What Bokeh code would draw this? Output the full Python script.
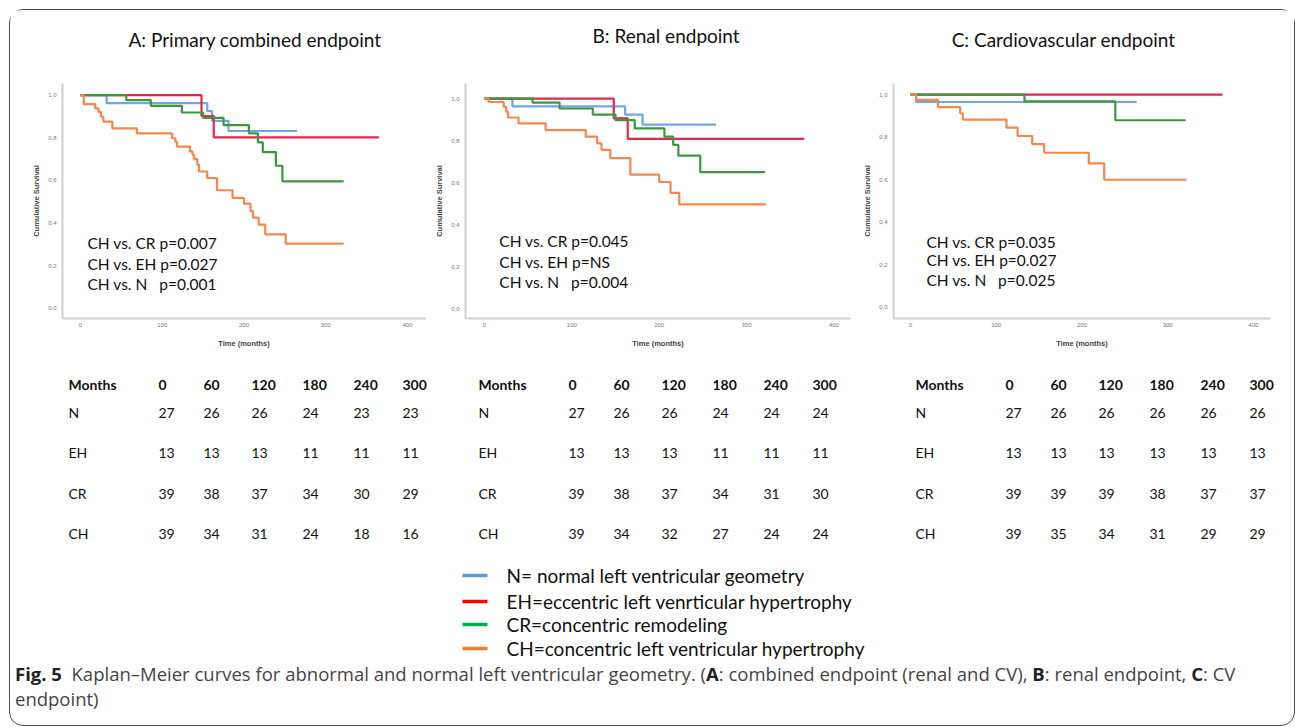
from bokeh.plotting import figure
from bokeh.layouts import row, column
from bokeh.models import Range1d, FixedTicker, CustomJSTickFormatter, Div
from bokeh.core.properties import value
from bokeh.embed import file_html
from bokeh.resources import INLINE

# ---------------- data ----------------
groups = ["N", "EH", "CR", "CH"]
km_colors = ["#70a7e3", "#e3264e", "#3b973b", "#f5874e"]
legend_colors = ["#5b9bd5", "#ff0000", "#00b050", "#ed7d31"]
legend_labels = ["N= normal left ventricular geometry",
                 "EH=eccentric left venrticular hypertrophy",
                 "CR=concentric remodeling",
                 "CH=concentric left ventricular hypertrophy"]
panel_titles = ["A: Primary combined endpoint", "B: Renal endpoint", "C: Cardiovascular endpoint"]

# Panel A  (event times in months, survival after each event, last follow-up)
A_N_t = [32, 155, 161, 181];            A_N_s = [0.963, 0.925, 0.88, 0.832];   A_N_end = 265
A_EH_t = [148, 163];                    A_EH_s = [0.902, 0.802];               A_EH_end = 365
A_CR_t = [56, 86, 124, 150, 175, 206, 217, 223, 239, 247]
A_CR_s = [0.977, 0.95, 0.919, 0.894, 0.86, 0.821, 0.779, 0.733, 0.669, 0.596]; A_CR_end = 322
A_CH_t = [4, 18, 22, 25, 28, 39, 69, 112, 116, 118, 134, 137, 139, 143, 145, 155, 167, 186, 200, 208, 211, 218, 226, 251]
A_CH_s = [0.958, 0.938, 0.922, 0.899, 0.876, 0.844, 0.821, 0.798, 0.782, 0.759, 0.736, 0.72, 0.70,
          0.673, 0.642, 0.611, 0.554, 0.518, 0.491, 0.456, 0.425, 0.393, 0.347, 0.303]; A_CH_end = 322

# Panel B
B_N_t = [32, 161, 181];                 B_N_s = [0.963, 0.924, 0.876];         B_N_end = 265
B_EH_t = [148, 164];                    B_EH_s = [0.906, 0.808];               B_EH_end = 366
B_CR_t = [55, 86, 124, 150, 172, 206, 216, 222, 247]
B_CR_s = [0.981, 0.953, 0.924, 0.898, 0.858, 0.819, 0.78, 0.729, 0.65];          B_CR_end = 321
B_CH_t = [4.6, 22, 25, 27, 39, 70, 116, 129, 134, 144, 167, 200, 213, 223]
B_CH_s = [0.984, 0.961, 0.937, 0.91, 0.882, 0.85, 0.819, 0.787, 0.756, 0.717, 0.638, 0.603, 0.551, 0.496]
B_CH_end = 322

# Panel C
C_N_t = [6.6];                          C_N_s = [0.965];                       C_N_end = 264
C_EH_t = [];                            C_EH_s = [];                           C_EH_end = 364
C_CR_t = [133, 239];                    C_CR_s = [0.968, 0.879];               C_CR_end = 321
C_CH_t = [6.6, 32, 58, 61, 112, 125, 142, 156, 208, 226]
C_CH_s = [0.975, 0.941, 0.912, 0.882, 0.844, 0.805, 0.767, 0.726, 0.676, 0.599]; C_CH_end = 322

A_pvals = ["CH vs. CR p=0.007", "CH vs. EH p=0.027", "CH vs. N\u00a0\u00a0 p=0.001"]
B_pvals = ["CH vs. CR p=0.045", "CH vs. EH p=NS", "CH vs. N\u00a0\u00a0 p=0.004"]
C_pvals = ["CH vs. CR p=0.035", "CH vs. EH p=0.027", "CH vs. N\u00a0\u00a0 p=0.025"]

# numbers at risk
risk_months = [0, 60, 120, 180, 240, 300]
A_risk_N = [27, 26, 26, 24, 23, 23]
A_risk_EH = [13, 13, 13, 11, 11, 11]
A_risk_CR = [39, 38, 37, 34, 30, 29]
A_risk_CH = [39, 34, 31, 24, 18, 16]
B_risk_N = [27, 26, 26, 24, 24, 24]
B_risk_EH = [13, 13, 13, 11, 11, 11]
B_risk_CR = [39, 38, 37, 34, 31, 30]
B_risk_CH = [39, 34, 32, 27, 24, 24]
C_risk_N = [27, 26, 26, 26, 26, 26]
C_risk_EH = [13, 13, 13, 13, 13, 13]
C_risk_CR = [39, 39, 39, 38, 37, 37]
C_risk_CH = [39, 35, 34, 31, 29, 29]

W = 1284

# ---------------- helpers ----------------
def km_xy(t, s, end):
    xs = [0] + list(t) + [end]
    ys = [1.0] + list(s) + [(s[-1] if s else 1.0)]
    return xs, ys


def blank(width, height, xr, yr):
    p = figure(width=width, height=height, x_range=Range1d(*xr), y_range=Range1d(*yr),
               output_backend="svg", toolbar_location=None,
               min_border_left=0, min_border_right=0, min_border_top=0, min_border_bottom=0)
    p.axis.visible = False
    p.xgrid.visible = False
    p.ygrid.visible = False
    p.outline_line_color = None
    return p


def km_panel(curves, pvals, pval_x, pval_y, xr, yr, width, height, bl, br, bt, bb):
    p = figure(width=width, height=height, x_range=Range1d(*xr), y_range=Range1d(*yr),
               output_backend="svg", toolbar_location=None,
               min_border_left=bl, min_border_right=br, min_border_top=bt, min_border_bottom=bb)
    p.outline_line_color = None
    p.xgrid.visible = False
    p.ygrid.visible = False
    for (t, s, end), col in zip(curves, km_colors):
        xs, ys = km_xy(t, s, end)
        p.step(xs, ys, mode="after", line_color=col, line_width=2.2)
    p.text(x=[pval_x] * len(pvals), y=pval_y, text=pvals, text_font=value("Lato"),
           text_font_size="15.5px", text_baseline="middle", text_align="left", text_color="#111111")
    p.xaxis.ticker = FixedTicker(ticks=[0, 100, 200, 300, 400])
    p.yaxis.ticker = FixedTicker(ticks=[0, 0.2, 0.4, 0.6, 0.8, 1.0])
    p.yaxis.formatter = CustomJSTickFormatter(code="return tick.toFixed(1).replace('.', ',');")
    p.xaxis.axis_label = "Time (months)"
    p.yaxis.axis_label = "Cumulative Survival"
    for ax in (p.xaxis[0], p.yaxis[0]):
        ax.axis_line_color = "#cfcfcf"
        ax.axis_line_width = 2
        ax.major_tick_line_color = None
        ax.minor_tick_line_color = None
        ax.major_tick_out = 0
        ax.major_tick_in = 0
        ax.minor_tick_out = 0
        ax.minor_tick_in = 0
        ax.major_label_text_font = "Liberation Sans"
        ax.major_label_text_font_size = "6px"
        ax.major_label_text_color = "#777777"
        ax.axis_label_text_font = "Liberation Sans"
        ax.axis_label_text_font_size = "7.5px"
        ax.axis_label_text_font_style = "bold"
        ax.axis_label_text_color = "#444444"
    p.xaxis.major_label_standoff = 4
    p.xaxis.axis_label_standoff = 9
    p.yaxis.major_label_standoff = 6
    p.yaxis.axis_label_standoff = 4
    return p


# ---------------- titles strip ----------------
pt = blank(W, 50, (0, W), (50, 0))
pt.text(x=[118, 582], y=[29, 25], text=panel_titles[:2], text_font=value("Lato"),
        text_font_size="19px", text_baseline="middle", text_align="left", text_color="#111111")
pt.text(x=[1165], y=[29], text=panel_titles[2:], text_font=value("Lato"),
        text_font_size="19px", text_baseline="middle", text_align="right", text_color="#111111")

# ---------------- KM panels ----------------
pA = km_panel([(A_N_t, A_N_s, A_N_end), (A_EH_t, A_EH_s, A_EH_end), (A_CR_t, A_CR_s, A_CR_end), (A_CH_t, A_CH_s, A_CH_end)],
              A_pvals, 8.6, [0.307, 0.209, 0.115], (-22, 422), (-0.048, 1.055),
              422, 298, 52, 7, 22, 40)
pB = km_panel([(B_N_t, B_N_s, B_N_end), (B_EH_t, B_EH_s, B_EH_end), (B_CR_t, B_CR_s, B_CR_end), (B_CH_t, B_CH_s, B_CH_end)],
              B_pvals, 17, [0.321, 0.222, 0.127], (-21.7, 419), (-0.047, 1.072),
              428, 298, 32, 10, 23, 38)
pC = km_panel([(C_N_t, C_N_s, C_N_end), (C_EH_t, C_EH_s, C_EH_end), (C_CR_t, C_CR_s, C_CR_end), (C_CH_t, C_CH_s, C_CH_end)],
              C_pvals, 18.6, [0.308, 0.219, 0.126], (-19.8, 420), (-0.054, 1.052),
              434, 298, 32, 24, 15, 33)

# ---------------- bottom: risk tables + legend ----------------
HB = 303
pb = blank(W, HB, (0, W), (HB, 0))

col_offsets = [90, 135, 183, 234, 285, 334]
row_y = [54, 94, 135, 175]
header_y = 26
tables = [(58, [A_risk_N, A_risk_EH, A_risk_CR, A_risk_CH]),
          (468, [B_risk_N, B_risk_EH, B_risk_CR, B_risk_CH]),
          (905, [C_risk_N, C_risk_EH, C_risk_CR, C_risk_CH])]
for x0, rows in tables:
    hx = [x0] + [x0 + o for o in col_offsets]
    ht = ["Months"] + [str(m) for m in risk_months]
    pb.text(x=hx, y=[header_y] * len(hx), text=ht, text_font=value("Lato"), text_font_size="14px",
            text_font_style="bold", text_baseline="middle", text_color="#111111")
    for g, vals, yy in zip(groups, rows, row_y):
        xs = [x0] + [x0 + o for o in col_offsets]
        ts = [g] + [str(v) for v in vals]
        pb.text(x=xs, y=[yy] * len(xs), text=ts, text_font=value("Lato"), text_font_size="14px",
                text_baseline="middle", text_color="#111111")

leg_y = [217, 243, 266, 290]
pb.segment(x0=[452] * 4, y0=leg_y, x1=[477] * 4, y1=leg_y, line_color=legend_colors, line_width=3.5)
pb.text(x=[496] * 4, y=leg_y, text=legend_labels, text_font=value("Lato"), text_font_size="19px",
        text_baseline="middle", text_color="#111111")

caption = Div(
    text=("<b style='color:#222'>Fig. 5</b>&nbsp; Kaplan\u2013Meier curves for abnormal and normal left ventricular "
          "geometry. (<b style='color:#222'>A</b>: combined endpoint (renal and CV), <b style='color:#222'>B</b>: "
          "renal endpoint, <b style='color:#222'>C</b>: CV<br>endpoint)"),
    width=W, height=64, margin=0,
    styles={"font-family": "Open Sans", "font-size": "18.5px", "color": "#444444",
            "line-height": "25.2px", "padding-left": "5px", "white-space": "nowrap",
            "box-sizing": "border-box"})

layout = column(pt, row(pA, pB, pC, spacing=0), pb, caption, spacing=0,
                margin=(10, 0, 0, 10),
                styles={"outline": "1.5px solid #4a4a4a", "outline-offset": "0px",
                        "border-radius": "13px"})

open("out.html", "w").write(file_html(layout, INLINE))
